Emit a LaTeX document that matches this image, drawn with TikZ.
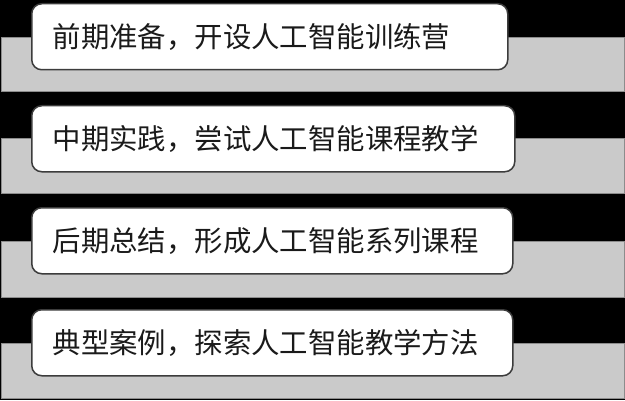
\documentclass[tikz,border=0pt]{standalone}
\usepackage{fontspec}
\usepackage{xcolor}
\usepackage{tikz}
\newfontfamily\cjk{Noto Sans CJK SC}
\definecolor{bandgray}{HTML}{CACACA}
\definecolor{bandedge}{HTML}{8C8C8C}
\definecolor{edge}{HTML}{3C3C3C}
\definecolor{ink}{HTML}{1A1A1A}

\begin{document}
\begin{tikzpicture}[x=1pt, y=1pt,
    layer/.style={draw=bandedge, line width=0.8pt, fill=bandgray},
    stage/.style={draw=edge, line width=1.5pt, fill=white, rounded corners=10pt,
        anchor=north west, inner xsep=21pt, inner ysep=0pt, minimum height=66pt,
        align=left, text=ink, font=\cjk\fontsize{28.4}{34}\selectfont}]
% Black background fixes the size of the picture
\fill[black] (0,0) rectangle (625,400);
\useasboundingbox (0,0) rectangle (625,400);

% Grey bands behind the boxes
\draw[layer] (1,309) rectangle (624,363);
\draw[layer] (1,207) rectangle (624,262);
\draw[layer] (1,103) rectangle (624,159);
\draw[layer] (1,2) rectangle (624,57);

% White boxes with the four stages
\node[stage, text width=434pt] (prep) at (31,397) {前期准备，开设人工智能训练营};
\node[stage, text width=441pt] (practice) at (31,295) {中期实践，尝试人工智能课程教学};
\node[stage, text width=439pt] (summary) at (31,193) {后期总结，形成人工智能系列课程};
\node[stage, text width=439pt] (cases) at (31,91) {典型案例，探索人工智能教学方法};
\end{tikzpicture}
\end{document}
